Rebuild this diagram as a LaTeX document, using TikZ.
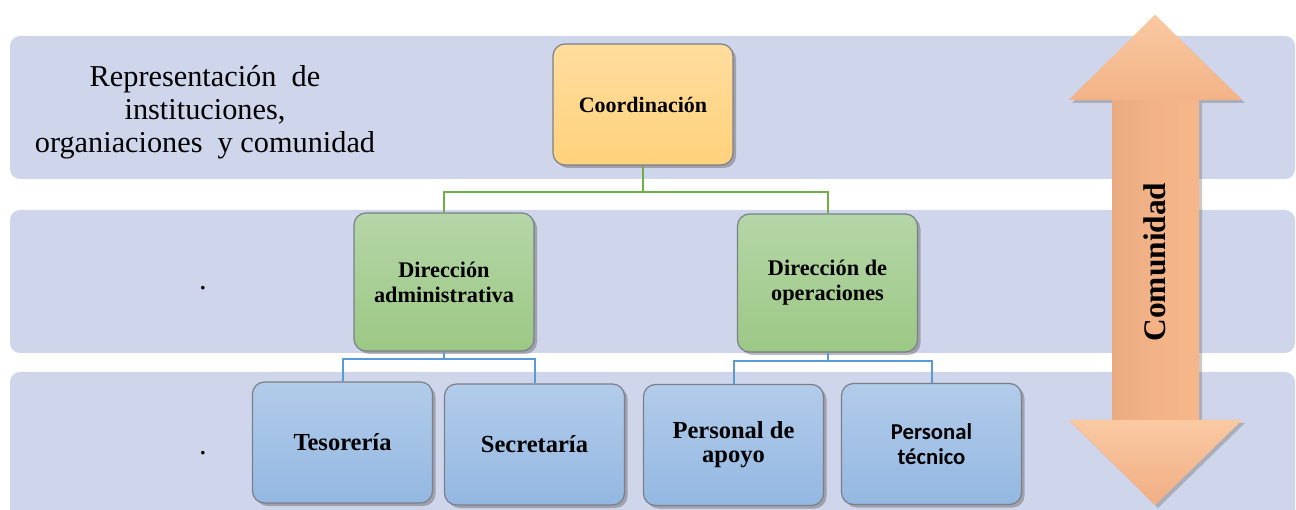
\documentclass[tikz,border=0pt]{standalone}
\usepackage{fontspec}
\setmainfont{Liberation Serif}
\newfontfamily\calibrifont{Carlito}
\usetikzlibrary{shadows}
\definecolor{bandc}{HTML}{CFD5EA}
\definecolor{orgtop}{HTML}{FFDD9E}
\definecolor{orgbot}{HTML}{FFD27C}
\definecolor{grntop}{HTML}{B5D6A7}
\definecolor{grnbot}{HTML}{9CC885}
\definecolor{blutop}{HTML}{B2CCEA}
\definecolor{blubot}{HTML}{94B8E2}
\definecolor{boxedge}{HTML}{7A7F88}
\definecolor{gline}{HTML}{70AD47}
\definecolor{bline}{HTML}{5B9BD5}
\definecolor{arrowL}{HTML}{E2A37C}
\definecolor{arrowM}{HTML}{F3B387}
\definecolor{arrowR}{HTML}{F5B98D}
\definecolor{headlt}{HTML}{FAC9A2}
\definecolor{headdk}{HTML}{F1AE84}
\tikzset{
  band/.style={fill=bandc, draw=none, rounded corners=10pt},
  boxbase/.style={rectangle, rounded corners=12pt, draw=boxedge, line width=1.2pt,
    minimum width=180pt, align=center,
    drop shadow={shadow xshift=3pt, shadow yshift=-3pt, opacity=0.45, fill=black!60}},
  orgbox/.style={boxbase, top color=orgtop, bottom color=orgbot, minimum height=121pt},
  grnbox/.style={boxbase, top color=grntop, bottom color=grnbot, minimum height=138pt,
    font=\fontsize{22.3}{25}\selectfont\bfseries},
  blubox/.style={boxbase, top color=blutop, bottom color=blubot, minimum height=121pt,
    font=\fontsize{24.5}{24}\selectfont\bfseries},
  gconn/.style={draw=gline, line width=2pt},
  bconn/.style={draw=bline, line width=2pt},
  lefttext/.style={align=center, inner sep=0pt, font=\fontsize{30.3}{33}\selectfont},
}
\begin{document}
\begin{tikzpicture}[x=1pt, y=-1pt]
\useasboundingbox (0,0) rectangle (1296,510);
% bands
\fill[band] (10,36) rectangle (1295,179);
\fill[band] (10,210) rectangle (1295,353);
\fill[band] (10,372) rectangle (1295,530);

% left texts
\node[lefttext] (rep) at (205,112) {Representación \ de\\instituciones,\\organiaciones \ y comunidad};
\node[lefttext] (dot1) at (203,288) {.};
\node[lefttext] (dot2) at (203,453) {.};

% boxes
\node[orgbox, font=\fontsize{22}{24}\selectfont\bfseries] (coord) at (643,104.5) {Coordinación};
\node[grnbox] (da) at (444,282) {Dirección\\administrativa};
\node[grnbox] (do) at (827.5,283) {Dirección de\\operaciones};
\node[blubox] (tes) at (342.5,442.5) {Tesorería};
\node[blubox] (sec) at (534.5,444.5) {Secretaría};
\node[blubox] (pap) at (733.5,445) {Personal de\\apoyo};
\node[blubox, font=\fontsize{22.7}{25}\selectfont\calibrifont\bfseries] (pte) at (931.5,444) {Personal\\técnico};

% connectors
\draw[gconn] (coord.south) -- ++(0,26) coordinate (gj) -| (da.north);
\draw[gconn] (gj) -| (do.north);
\draw[bconn] (da.south) -- ++(0,7) coordinate (bj1) -| (tes.north);
\draw[bconn] (bj1) -| (sec.north);
\draw[bconn] (do.south) -- ++(0,8) coordinate (bj2) -| (pap.north);
\draw[bconn] (bj2) -| (pte.north);

% double arrow
\coordinate (atop) at (1155,15);
\coordinate (abot) at (1155,505);
\path[drop shadow={shadow xshift=3pt, shadow yshift=-3pt, opacity=0.35, fill=black!60},
      left color=arrowL, right color=arrowR, middle color=arrowM]
  (atop) -- (1242,100) -- (1199,100) -- (1199,420) -- (1242,420) -- (abot)
  -- (1069,420) -- (1112,420) -- (1112,100) -- (1069,100) -- cycle;
\shade[top color=headlt, bottom color=arrowM] (atop) -- (1242,100) -- (1069,100) -- cycle;
\shade[top color=headlt, bottom color=headdk] (1069,420) -- (1242,420) -- (abot) -- cycle;
\node[rotate=90, font=\fontsize{31.4}{33}\selectfont\bfseries] (com) at (1155,262) {Comunidad};
\end{tikzpicture}
\end{document}
